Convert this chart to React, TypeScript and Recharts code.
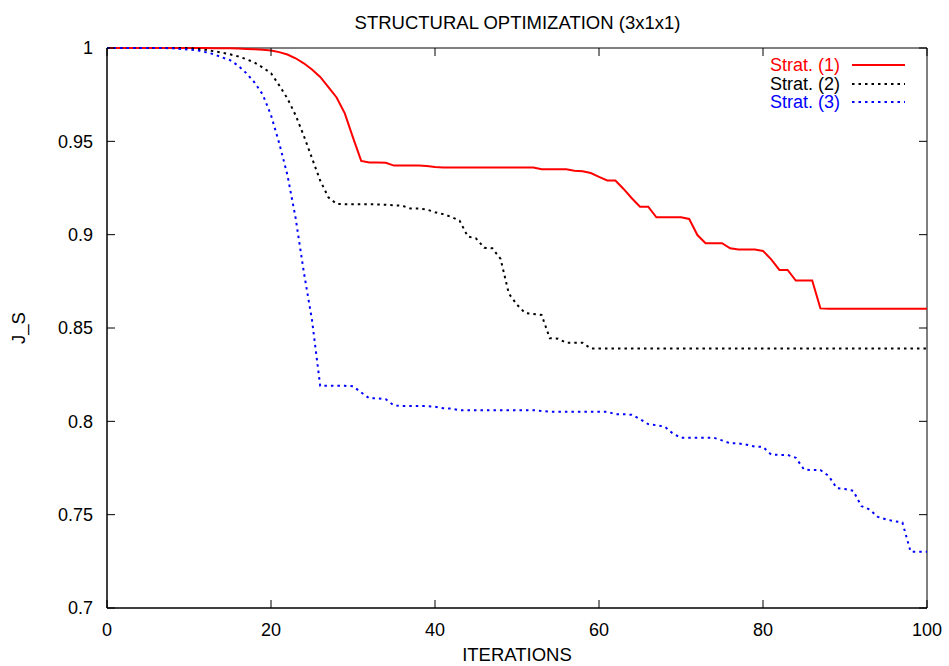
import React from "react";
import { LineChart, Line, XAxis, YAxis, ReferenceArea } from "recharts";

const FONT = '"Liberation Sans", Arial, Helvetica, sans-serif';

// iteration index 0..100
const iterations = Array.from({ length: 101 }, (_, i) => i);

const strat1 = [
  1, 1, 1, 1, 1, 1, 1, 1, 1, 1, 1, 1, 1,
  0.9999, 0.9999, 0.9998, 0.9997, 0.9995, 0.9993, 0.999, 0.9986, 0.9978, 0.9965,
  0.9945, 0.9918, 0.9885, 0.9845, 0.979, 0.9735, 0.965, 0.952, 0.9395, 0.9387,
  0.9387, 0.9385, 0.937, 0.937, 0.937, 0.937, 0.9368, 0.9362,
  0.936, 0.936, 0.936, 0.936, 0.936, 0.936, 0.936, 0.936, 0.936, 0.936, 0.936, 0.936,
  0.935, 0.935, 0.935, 0.935, 0.9343, 0.934, 0.933, 0.931, 0.929, 0.929, 0.9245,
  0.9195, 0.915, 0.915, 0.9093, 0.9093, 0.9093, 0.9093, 0.9084, 0.8998, 0.8954,
  0.8954, 0.8954, 0.8927, 0.8921, 0.8921, 0.8921, 0.8913, 0.8868, 0.8811, 0.8811,
  0.8754, 0.8754, 0.8754, 0.8605,
  0.8603, 0.8603, 0.8603, 0.8603, 0.8603, 0.8603, 0.8603, 0.8603, 0.8603, 0.8603,
  0.8603, 0.8603, 0.8603,
];

const strat2 = [
  1, 1, 1, 1, 1, 1, 1, 1, 1, 1, 1,
  0.9996, 0.999, 0.9983, 0.9975, 0.9966, 0.9955, 0.994, 0.9922, 0.9895, 0.9865,
  0.98, 0.973, 0.964, 0.953, 0.941, 0.929, 0.92, 0.9165, 0.9163, 0.9163, 0.9163,
  0.9163, 0.9162, 0.916, 0.9157, 0.9155, 0.914, 0.914, 0.9135, 0.912, 0.911, 0.9095,
  0.9075, 0.899, 0.898, 0.893, 0.8927, 0.887, 0.8685, 0.8625, 0.858, 0.8575, 0.857,
  0.8445, 0.8443, 0.8421, 0.8421, 0.8421,
  0.839, 0.839, 0.839, 0.839, 0.839, 0.839, 0.839, 0.839, 0.839, 0.839, 0.839,
  0.839, 0.839, 0.839, 0.839, 0.839, 0.839, 0.839, 0.839, 0.839, 0.839, 0.839,
  0.839, 0.839, 0.839, 0.839, 0.839, 0.839, 0.839, 0.839, 0.839, 0.839, 0.839,
  0.839, 0.839, 0.839, 0.839, 0.839, 0.839, 0.839, 0.839, 0.839,
];

const strat3 = [
  1, 1, 1, 1, 1, 1, 1, 1,
  0.9998, 0.9995, 0.9992, 0.9988, 0.9978, 0.9967, 0.995, 0.9935, 0.9905, 0.9865,
  0.9815, 0.975, 0.964, 0.949, 0.932, 0.909, 0.88, 0.8543, 0.819, 0.819, 0.819,
  0.819, 0.8188, 0.8155, 0.8123, 0.8123, 0.8118, 0.8085, 0.8082, 0.8082, 0.8082,
  0.8082, 0.8078, 0.807, 0.8068,
  0.806, 0.806, 0.806, 0.806, 0.806, 0.806, 0.806, 0.806, 0.806, 0.806,
  0.8055,
  0.8052, 0.8052, 0.8052, 0.8052, 0.8052, 0.8052, 0.8052, 0.8052,
  0.8038, 0.8038, 0.8035, 0.8012, 0.7985, 0.7979, 0.7972, 0.7935, 0.7912, 0.7912,
  0.7912, 0.7912, 0.7912, 0.7898, 0.7882, 0.7882, 0.7875, 0.7865, 0.7863, 0.7822,
  0.782, 0.782, 0.7805, 0.7742, 0.7739, 0.7739, 0.7708, 0.7642, 0.7637, 0.7628,
  0.7546, 0.7528, 0.7488, 0.7475, 0.7465, 0.7458, 0.7302, 0.7302, 0.7302,
];

const xTicks = [0, 20, 40, 60, 80, 100];
const yTicks = [0.7, 0.75, 0.8, 0.85, 0.9, 0.95, 1];

const seriesNames = ["Strat. (1)", "Strat. (2)", "Strat. (3)"];
const seriesColors = ["#ff0000", "#000000", "#0000ff"];
const DOTS = "2.5 4";

const data = iterations.map((it, i) => ({
  iter: it,
  s1: strat1[i],
  s2: strat2[i],
  s3: strat3[i],
}));

// plot frame
const W = 949;
const H = 666;
const M = { top: 48, right: 22, bottom: 18, left: 47 };
const Y_AXIS_W = 60;
const X_AXIS_H = 40;
const LEFT = M.left + Y_AXIS_W;
const RIGHT = W - M.right;
const TOP = M.top;
const BOTTOM = H - M.bottom - X_AXIS_H;
const TICK = 8;

// gnuplot style: inward ticks, mirrored on the opposite side
const XTick = (props: any) => {
  const { x, y, payload } = props;
  return (
    <g>
      <line x1={x} x2={x} y1={BOTTOM} y2={BOTTOM - TICK} stroke="#000" />
      <line x1={x} x2={x} y1={TOP} y2={TOP + TICK} stroke="#000" />
      <text x={x} y={y} dy="0.71em" textAnchor="middle" fontSize={18} fontFamily={FONT} fill="#000">
        {String(payload.value)}
      </text>
    </g>
  );
};

const YTick = (props: any) => {
  const { x, y, payload } = props;
  return (
    <g>
      <line x1={LEFT} x2={LEFT + TICK} y1={y} y2={y} stroke="#000" />
      <line x1={RIGHT} x2={RIGHT - TICK} y1={y} y2={y} stroke="#000" />
      <text x={x} y={y} dy="0.355em" textAnchor="end" fontSize={18} fontFamily={FONT} fill="#000">
        {String(payload.value)}
      </text>
    </g>
  );
};

function LegendBox() {
  return (
    <div style={{ position: "absolute", left: 700, top: 56, width: 220, fontFamily: FONT, fontSize: 18 }}>
      {seriesNames.map((name, i) => (
        <div key={name} style={{ display: "flex", alignItems: "center", height: 18.5 }}>
          <span
            style={{
              display: "block",
              width: 140,
              height: 18.5,
              lineHeight: "18.5px",
              overflow: "visible",
              textAlign: "right",
              color: seriesColors[i],
            }}
          >
            {name}
          </span>
          <svg width={60} height={18} style={{ marginLeft: 12 }}>
            <line
              x1={0}
              x2={53}
              y1={9}
              y2={9}
              stroke={seriesColors[i]}
              strokeWidth={2}
              strokeDasharray={i === 0 ? undefined : DOTS}
            />
          </svg>
        </div>
      ))}
    </div>
  );
}

export default function App() {
  return (
    <div style={{ position: "absolute", left: 0, top: 0, width: W, height: H, background: "#fff" }}>
      <LineChart width={W} height={H} data={data} margin={M}>
        <XAxis
          dataKey="iter"
          type="number"
          domain={[0, 100]}
          ticks={xTicks}
          height={X_AXIS_H}
          tickSize={0}
          tickMargin={15}
          tickLine={false}
          stroke="#000"
          tick={XTick}
        />
        <YAxis
          type="number"
          domain={[0.7, 1]}
          ticks={yTicks}
          width={Y_AXIS_W}
          tickSize={0}
          tickMargin={14}
          tickLine={false}
          stroke="#000"
          tick={YTick}
        />
        <ReferenceArea
          x1={0}
          x2={100}
          y1={0.7}
          y2={1}
          fill="none"
          fillOpacity={0}
          stroke="#000"
          strokeWidth={1}
          ifOverflow="visible"
        />
        <Line type="linear" dataKey="s1" stroke={seriesColors[0]} strokeWidth={2} dot={false} isAnimationActive={false} />
        <Line type="linear" dataKey="s2" stroke={seriesColors[1]} strokeWidth={2} strokeDasharray={DOTS} dot={false} isAnimationActive={false} />
        <Line type="linear" dataKey="s3" stroke={seriesColors[2]} strokeWidth={2} strokeDasharray={DOTS} dot={false} isAnimationActive={false} />
      </LineChart>

      <div style={{ position: "absolute", left: 0, width: W, top: 12, textAlign: "center", fontFamily: FONT, fontSize: 18.5, lineHeight: "22px" }}>
        <span style={{ position: "relative", left: 43 }}>STRUCTURAL OPTIMIZATION (3x1x1)</span>
      </div>
      <div style={{ position: "absolute", left: LEFT, width: RIGHT - LEFT, top: 644, textAlign: "center", fontFamily: FONT, fontSize: 18.5, lineHeight: "22px" }}>
        ITERATIONS
      </div>
      <div
        style={{
          position: "absolute",
          left: 18.5,
          top: (TOP + BOTTOM) / 2,
          transform: "translate(-50%, -50%) rotate(-90deg)",
          fontFamily: FONT,
          fontSize: 18.5,
          lineHeight: "22px",
          whiteSpace: "nowrap",
        }}
      >
        J_S
      </div>
      <LegendBox />
    </div>
  );
}
